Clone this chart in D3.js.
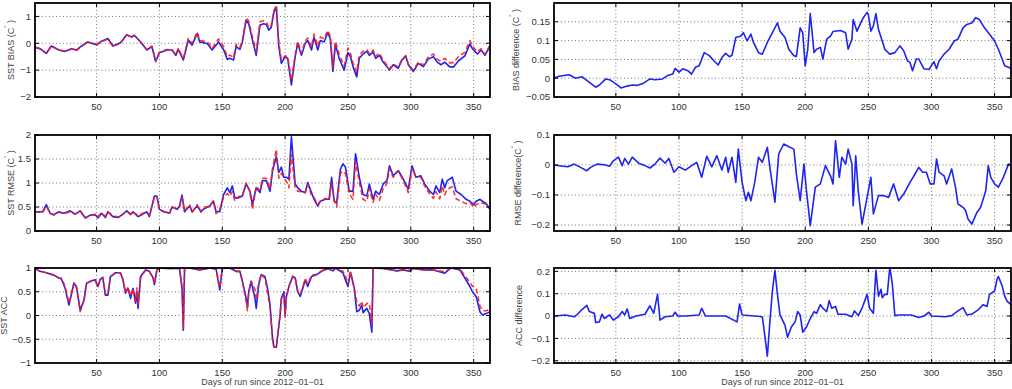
<!DOCTYPE html>
<html><head><meta charset="utf-8">
<script src="https://cdn.jsdelivr.net/npm/d3@7"></script>
<style>body{margin:0;background:#fff;}svg{display:block;font-family:"Liberation Sans",Arial,sans-serif;}</style>
</head><body>
<svg id="chart" width="1012" height="389"></svg>
<script>
// ---------- DATA ----------
const xTicks = [50,100,150,200,250,300,350];
const xLabel = "Days of run since 2012\u221201\u221201";

const biasDays = [1,5,10,14,20,25,30,34,38,43, 50,54,59,63,69,74,78,80,85,90, 94,97,100,106,110,113,115,119,123,126, 130,132,138,142,147,151,154,156,159,161, 164,166,169,171,174,177,180,183,185,187, 189,191,193,195,197,200,202,205,208,210, 213,216,218,221,223,226,228,231,234,236, 238,240,243,247,250,252,254,257,259,262, 265,267,270,272,275,278,281,283,286,290, 293,296,298,302,306,310,314,318,321,324, 327,331,334,338,343,347,349,353,356,359, 363];
const biasBlue = [-0.15,-0.2,-0.38,-0.1,-0.25,-0.3,-0.2,-0.25,-0.1,0.05, -0.05,0.08,0.18,-0.1,0.02,0.32,0.23,0.3,0.05,-0.25, -0.12,-0.68,-0.35,-0.25,-0.25,-0.45,-0.23,-0.62,0.12,-0.07, 0.37,0.05,-0.01,-0.25,0.05,-0.23,-0.6,-0.56,-0.62,-0.12, -0.23,0.05,0.86,0.73,0.12,-0.45,0.68,0.73,0.7,0.49, 0.6,1.15,1.35,-0.12,-0.75,-0.5,-0.56,-1.55,-0.5,0, -0.45,0,0.1,-0.25,0.22,-0.25,0.1,0.05,0.4,0.15, -1.05,-0.05,-0.56,-1.0,-0.35,-0.5,-0.87,-1.25,-0.56,-0.4, -0.3,-0.45,-0.32,-0.56,-0.45,-0.7,-0.87,-1.0,-0.8,-0.93, -0.62,-0.48,-0.8,-1.05,-0.75,-0.87,-0.58,-0.5,-0.7,-0.8, -0.7,-0.88,-0.88,-0.65,-0.47,-0.02,-0.2,-0.4,-0.25,-0.45, -0.1];
const biasRed = [-0.15,-0.2,-0.37,-0.1,-0.25,-0.3,-0.21,-0.27,-0.12,0.05, -0.07,0.05,0.16,-0.12,0.0,0.31,0.23,0.3,0.05,-0.24, -0.11,-0.65,-0.33,-0.23,-0.24,-0.42,-0.2,-0.57,0.18,0.0, 0.41,0.1,0.06,-0.19,0.16,-0.11,-0.5,-0.44,-0.52,-0.04, -0.16,0.11,0.95,0.83,0.24,-0.31,0.8,0.84,0.8,0.57, 0.66,1.21,1.42,0.0,-0.62,-0.47,-0.49,-1.39,-0.43,0.08, -0.37,0.09,0.2,-0.14,0.34,-0.12,0.23,0.17,0.48,0.25, -0.9,0.08,-0.42,-0.84,-0.18,-0.38,-0.73,-1.08,-0.43,-0.3, -0.23,-0.39,-0.25,-0.49,-0.36,-0.63,-0.82,-0.96,-0.78,-0.88, -0.59,-0.46,-0.78,-1.01,-0.7,-0.81,-0.5,-0.4,-0.6,-0.67, -0.56,-0.73,-0.72,-0.49,-0.34,0.1,-0.1,-0.32,-0.2,-0.42, -0.07];

const rmseDays = [1,4,7,10,13,16,20,24,29,33, 37,41,45,49,51,54,57,59,63,67, 71,74,77,79,83,86,90,92,96,98, 100,104,108,110,114,116,118,120,124,126, 130,133,136,140,143,145,148,151,154,156, 158,160,163,166,169,172,174,177,180,182, 185,188,190,193,195,197,199,201,203,205, 208,210,213,216,218,221,223,226,228,232, 235,237,239,241,244,246,248,251,254,256, 259,262,265,267,270,272,275,278,281,283, 286,290,294,298,301,304,308,311,315,318, 320,323,325,327,329,333,336,340,344,347, 350,352,355,357,360,363];
const rmseBlue = [0.4,0.4,0.4,0.55,0.37,0.34,0.4,0.37,0.42,0.35, 0.42,0.27,0.33,0.34,0.27,0.37,0.28,0.4,0.3,0.28, 0.35,0.42,0.35,0.4,0.3,0.34,0.4,0.3,0.73,0.73, 0.45,0.4,0.37,0.5,0.45,0.52,0.75,0.4,0.52,0.4, 0.52,0.41,0.47,0.52,0.62,0.41,0.4,0.76,0.9,0.8, 0.94,0.69,0.69,0.73,0.98,0.83,0.55,0.9,0.8,1.05, 1.05,0.83,1.26,1.55,1.22,1.33,1.12,1.12,1.08,1.96, 0.98,0.9,0.83,0.8,1.01,0.8,0.66,0.52,0.62,0.66, 0.66,1.12,0.62,0.59,1.29,1.4,1.33,0.83,0.83,1.61, 1.12,0.76,0.73,0.98,0.66,0.83,0.76,0.98,1.05,1.36, 1.15,1.26,1.08,0.87,1.36,1.12,1.15,0.98,0.83,0.76, 0.94,0.8,1.08,0.9,1.05,1.12,0.83,0.76,0.66,0.62, 0.55,0.62,0.66,0.62,0.57,0.45];
const rmseRed = [0.4,0.39,0.38,0.52,0.37,0.33,0.39,0.36,0.4,0.35, 0.42,0.27,0.33,0.35,0.3,0.38,0.3,0.4,0.32,0.29, 0.35,0.41,0.34,0.4,0.32,0.36,0.4,0.32,0.7,0.71, 0.44,0.39,0.37,0.5,0.46,0.5,0.7,0.42,0.55,0.39, 0.55,0.39,0.5,0.5,0.64,0.36,0.45,0.7,0.78,0.72, 0.82,0.63,0.72,0.74,1.0,0.82,0.45,0.93,0.85,1.1, 1.1,0.88,1.3,1.7,1.1,1.2,1.12,1.03,0.9,1.6, 0.9,0.83,0.82,0.8,0.97,0.74,0.7,0.55,0.62,0.68, 0.64,1.0,0.65,0.5,1.2,1.25,1.2,0.78,0.66,1.45, 1.02,0.66,0.62,0.88,0.6,0.77,0.64,0.88,0.99,1.3, 1.12,1.25,1.05,0.8,1.3,1.13,1.12,0.94,0.77,0.68, 0.82,0.67,0.94,0.75,0.87,0.92,0.67,0.62,0.57,0.6, 0.49,0.55,0.59,0.58,0.56,0.45];

const accDays = [1,5,10,16,20,22,25,28,32,34, 37,40,42,46,49,51,53,55,57,59, 61,65,69,71,73,75,77,79,81,82, 83,85,89,92,95,96,98,100,106,116, 118,119,120,124,132,140,145,148,150,156, 161,164,166,169,170,171,173,176,177,179, 181,184,186,188,190,191,193,196,197,199, 200,201,203,206,208,210,212,214,216,218, 221,225,229,234,238,240,246,248,250,252, 255,257,259,261,262,265,267,269,270,278, 289,294,299,302,310,318,327,332,339,343, 347,349,352,355,357,360,363];
const accBlue = [0.99,0.93,0.9,0.85,0.79,0.77,0.57,0.22,0.68,0.61, 0.11,0.33,0.68,0.73,0.75,0.61,0.77,0.79,0.43,0.43, 0.82,0.9,0.9,0.75,0.47,0.57,0.36,0.57,0.26,0.5, 0.15,0.82,0.96,0.93,0.79,0.65,0.96,1.0,0.99,0.99, 0.57,-0.31,1.0,1.0,0.96,1.0,0.99,0.54,0.99,1.0, 0.93,0.93,0.72,0.36,0.18,0.5,0.72,0.36,0.15,0.65, 0.86,0.82,0.57,0.22,-0.49,-0.65,-0.67,0.01,0.36,0.5, 0.01,0.4,0.61,0.82,0.79,0.5,0.4,0.57,0.75,0.61, 0.82,0.86,0.93,0.99,0.94,1.0,0.9,0.75,0.61,0.91, 0.57,0.08,0.11,0.22,0.06,0.15,0.04,-0.35,1.0,0.99, 0.94,0.96,0.93,0.99,0.96,0.96,0.89,1.0,0.96,0.79, 0.61,0.5,0.4,0.08,0.01,0.04,0.08];
const accRed = [0.99,0.93,0.9,0.85,0.79,0.79,0.61,0.26,0.69,0.58, 0.08,0.32,0.68,0.73,0.73,0.61,0.77,0.81,0.44,0.46, 0.81,0.9,0.9,0.75,0.48,0.6,0.41,0.57,0.3,0.58, 0.25,0.8,0.96,0.93,0.79,0.67,0.96,1.0,0.99,0.99, 0.6,-0.28,1.0,1.0,0.96,1.0,0.97,0.59,0.99,1.0, 0.93,0.93,0.72,0.3,0.1,0.45,0.72,0.55,0.33,0.68, 0.86,0.78,0.48,0.17,-0.51,-0.67,-0.66,0.01,0.33,0.45, -0.03,0.39,0.61,0.83,0.8,0.52,0.45,0.6,0.77,0.66, 0.85,0.87,0.94,0.99,0.94,1.0,0.93,0.83,0.66,0.93, 0.58,0.28,0.2,0.3,0.16,0.25,0.26,-0.2,1.0,0.99, 0.94,0.96,0.95,0.99,0.96,0.96,0.92,1.0,0.98,0.84, 0.7,0.62,0.57,0.2,0.1,0.1,0.13];

const biasDiffDays = [1,5,13,18,23,27,34,37,42,45, 50,54,59,63,67,71,77,81,87,91, 95,97,100,103,107,110,113,116,120,124, 128,131,134,137,140,142,145,149,151,154, 157,159,163,166,170,174,178,180,184,187, 191,193,196,198,200,202,204,207,209,212, 214,217,220,222,228,232,234,237,238,241, 244,246,249,250,252,254,256,258,261,263, 267,271,275,278,281,283,285,288,290,294, 298,302,304,306,310,314,318,321,325,328, 332,335,338,342,346,350,353,356,358,361, 363];
const biasDiff = [0,0.005,0.009,0,0.004,-0.006,-0.024,-0.018,-0.002,-0.004, -0.015,-0.026,-0.021,-0.018,-0.019,-0.015,-0.002,-0.004,-0.002,0.007, 0.011,0.026,0.016,0.025,0.02,0.011,0.029,0.033,0.068,0.06, 0.045,0.035,0.055,0.066,0.057,0.061,0.108,0.112,0.121,0.099, 0.117,0.095,0.068,0.064,0.095,0.121,0.147,0.125,0.108,0.077, 0.06,0.058,0.134,0.121,0.033,0.077,0.172,0.068,0.077,0.082, 0.051,0.104,0.112,0.124,0.127,0.121,0.077,0.104,0.156,0.125, 0.147,0.161,0.175,0.169,0.125,0.139,0.172,0.13,0.099,0.077, 0.064,0.068,0.086,0.073,0.046,0.042,0.02,0.051,0.051,0.025, 0.023,0.044,0.025,0.046,0.064,0.077,0.099,0.104,0.134,0.143, 0.147,0.161,0.156,0.134,0.117,0.099,0.077,0.051,0.033,0.029, 0.026];

const rmseDiffDays = [1,8,12,17,22,27,30,35,41,45, 48,52,55,57,60,63,68,73,77,81, 85,89,92,96,100,105,110,114,118,122, 126,130,134,137,139,142,145,147,150,153, 155,157,160,163,166,170,172,176,179,183, 187,191,193,196,199,201,204,208,212,216, 220,222,224,227,229,232,234,237,238,240, 242,245,249,252,254,258,262,266,270,274, 278,283,287,290,293,296,299,302,304,306, 310,312,316,319,321,325,327,329,332,336, 339,343,345,347,350,353,357,361,363];
const rmseDiff = [0,-0.004,-0.006,0.003,-0.008,-0.019,-0.008,0.003,0.001,-0.004, 0.014,0.026,-0.002,0.022,0.003,0.026,0.006,-0.002,-0.01,0.003, 0.023,0.006,0.022,-0.024,-0.006,-0.017,-0.002,0.009,-0.041,0.029, -0.006,0.031,-0.017,0.026,-0.024,0.026,-0.058,0.053,-0.058,-0.119, -0.091,-0.119,-0.058,0.026,0.009,0.059,-0.008,-0.124,0.037,0.07, 0.061,0.053,-0.03,-0.119,0.003,-0.086,-0.202,-0.074,-0.063,-0.002, -0.036,-0.063,0.081,-0.041,0.026,0.003,0.053,0.003,-0.136,0.031, -0.086,-0.197,-0.108,-0.041,-0.163,-0.102,-0.102,-0.108,-0.063,-0.119, -0.097,-0.058,-0.03,-0.008,-0.024,-0.024,-0.063,-0.063,0.02,-0.024, -0.036,-0.063,-0.013,-0.074,-0.13,-0.141,-0.152,-0.18,-0.197,-0.158, -0.141,-0.086,-0.002,-0.041,-0.063,-0.074,-0.041,0.003,0];

const accDiffDays = [1,10,17,19,23,27,29,33,34,37, 39,41,45,48,52,55,57,59,61,66, 73,77,80,83,85,89,95,97,99,105, 116,118,121,137,146,148,150,160,166,168, 170,172,174,176,178,180,184,186,189,192, 194,196,198,201,204,207,209,212,214,217, 219,221,224,226,232,237,239,242,245,249, 251,253,254,256,258,260,261,263,265,267, 269,271,274,284,290,294,298,300,311,316, 321,325,328,332,337,341,344,346,350,352, 353,356,358,360,363];
const accDiff = [0,0.005,-0.003,0.005,0.028,0.048,0.02,0.012,-0.029,-0.026, 0.008,-0.011,0.005,-0.018,-0.003,0.02,0.005,0.032,-0.011,0, 0.008,0.046,0.012,0.097,-0.018,-0.003,0,0.017,0,0, 0.005,0.035,0,0,-0.026,0.054,0.005,0,-0.003,-0.088, -0.18,-0.026,0.112,0.205,0.097,0.005,-0.042,-0.095,-0.049,-0.026, 0.02,0.005,-0.072,-0.049,-0.011,0.02,0.012,0.051,0.035,0.02, 0.069,0.035,0.043,0.008,0.008,-0.003,0.023,0.002,0.035,0.097, 0.035,0.02,0.012,0.205,0.089,0.12,0.082,0.097,0.097,0.22, 0.143,0.002,0.005,0.005,-0.006,0,0.017,0,-0.003,0.002, 0.023,0.038,0.005,0.009,0.028,0.051,0.043,0.097,0.112,0.166, 0.177,0.135,0.089,0.066,0.051];

const yTicksBias = [-2,-1,0,1];
const yTicksRmse = [0,0.5,1,1.5,2];
const yTicksAcc = [-1,-0.5,0,0.5,1];
const yTicksBiasDiff = [-0.05,0,0.05,0.1,0.15];
const yTicksRmseDiff = [-0.2,-0.1,0,0.1];
const yTicksAccDiff = [-0.2,-0.1,0,0.1,0.2];

// ---------- LAYOUT ----------
const BLUE = "#1f24f0", RED = "#ff1a1a";
const svg = d3.select("#chart");
const cols = [{x0:35, x1:490}, {x0:554, x1:1011}];
const rows = [{y0:3, y1:97}, {y0:135, y1:231}, {y0:268, y1:363}];

const panels = [
  {c:0,r:0, dom:[-2,1.5], ticks:yTicksBias, label:["SST BIAS (C","\u02da"," )"], lx:14,
   series:[{d:biasDays,v:biasBlue,col:BLUE},{d:biasDays,v:biasRed,col:RED,dash:true}]},
  {c:0,r:1, dom:[0,2], ticks:yTicksRmse, label:["SST RMSE (C","\u02da"," )"], lx:14,
   series:[{d:rmseDays,v:rmseBlue,col:BLUE},{d:rmseDays,v:rmseRed,col:RED,dash:true}]},
  {c:0,r:2, dom:[-1,1], ticks:yTicksAcc, label:["SST ACC"], lx:7, xl:true,
   series:[{d:accDays,v:accBlue,col:BLUE},{d:accDays,v:accRed,col:RED,dash:true}]},
  {c:1,r:0, dom:[-0.05,0.2], ticks:yTicksBiasDiff, label:["BIAS difference (C","\u02da"," )"], lx:519,
   series:[{d:biasDiffDays,v:biasDiff,col:BLUE}]},
  {c:1,r:1, dom:[-0.22,0.1], ticks:yTicksRmseDiff, label:["RMSE difference(C","\u02da"," )"], lx:521,
   series:[{d:rmseDiffDays,v:rmseDiff,col:BLUE}]},
  {c:1,r:2, dom:[-0.21,0.215], ticks:yTicksAccDiff, label:["ACC difference"], lx:522, xl:true,
   series:[{d:accDiffDays,v:accDiff,col:BLUE}]}
];

const fmt = d3.format("~g");
panels.forEach((p,i) => {
  const {x0,x1} = cols[p.c], {y0,y1} = rows[p.r];
  const x = d3.scaleLinear().domain([1,363]).range([x0,x1]);
  const y = d3.scaleLinear().domain(p.dom).range([y1,y0]);
  const g = svg.append("g");

  svg.append("clipPath").attr("id","clip"+i).append("rect")
    .attr("x",x0).attr("y",y0).attr("width",x1-x0).attr("height",y1-y0);

  // grid
  const grid = g.append("g").attr("stroke","#6a6a6a").attr("stroke-width",0.9).attr("stroke-dasharray","1,2.5");
  xTicks.forEach(t => grid.append("line").attr("x1",x(t)).attr("x2",x(t)).attr("y1",y0).attr("y2",y1));
  p.ticks.forEach(t => { if (Math.abs(y(t)-y0)>1 && Math.abs(y(t)-y1)>1) grid.append("line").attr("x1",x0).attr("x2",x1).attr("y1",y(t)).attr("y2",y(t)); });

  // series
  const line = d3.line().x(d=>x(d[0])).y(d=>y(d[1]));
  const lg = g.append("g").attr("clip-path","url(#clip"+i+")");
  p.series.forEach(s => {
    const pts = d3.zip(s.d, s.v);
    lg.append("path").attr("d",line(pts)).attr("fill","none").attr("stroke",s.col)
      .attr("stroke-width",1.6).attr("stroke-linejoin","round")
      .attr("stroke-dasharray", s.dash ? "5,3" : null).attr("opacity", s.dash?0.9:1);
  });

  // ticks (inside, all sides)
  const tk = g.append("g").attr("stroke","#000").attr("stroke-width",1);
  xTicks.forEach(t => {
    tk.append("line").attr("x1",x(t)).attr("x2",x(t)).attr("y1",y1).attr("y2",y1-4);
    tk.append("line").attr("x1",x(t)).attr("x2",x(t)).attr("y1",y0).attr("y2",y0+4);
  });
  p.ticks.forEach(t => {
    tk.append("line").attr("x1",x0).attr("x2",x0+4).attr("y1",y(t)).attr("y2",y(t));
    tk.append("line").attr("x1",x1).attr("x2",x1-4).attr("y1",y(t)).attr("y2",y(t));
  });

  // frame
  g.append("rect").attr("x",x0).attr("y",y0).attr("width",x1-x0).attr("height",y1-y0)
    .attr("fill","none").attr("stroke","#000").attr("stroke-width",1.8);

  // tick labels
  const tl = g.append("g").attr("font-size",9.5).attr("fill","#333");
  xTicks.forEach(t => tl.append("text").attr("x",x(t)).attr("y",y1+13).attr("text-anchor","middle").text(t));
  p.ticks.forEach(t => tl.append("text").attr("x",x0-4).attr("y",y(t)+3.3).attr("text-anchor","end").text(fmt(t)));

  // y label
  const yl = g.append("text").attr("transform",`translate(${p.lx},${(y0+y1)/2}) rotate(-90)`)
    .attr("text-anchor","middle").attr("font-size",9).attr("fill","#444");
  yl.append("tspan").text(p.label[0]);
  if (p.label.length>1) {
    yl.append("tspan").attr("font-size",7).attr("dy",-4).text(p.label[1]);
    yl.append("tspan").attr("dy",4).text(p.label[2]);
  }

  if (p.xl) {
    g.append("text").attr("x",(x0+x1)/2).attr("y",385).attr("text-anchor","middle")
      .attr("font-size",9).attr("fill","#444").text(xLabel);
  }
});
</script>
</body></html>
